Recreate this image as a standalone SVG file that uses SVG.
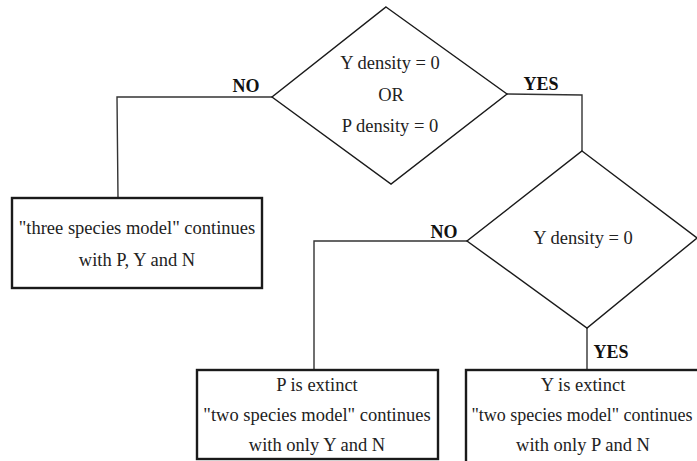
<svg xmlns="http://www.w3.org/2000/svg" width="697" height="461" viewBox="0 0 697 461">
<style>
text{font-family:'Liberation Serif','DejaVu Serif',Times,serif;font-size:18.5px;text-anchor:middle}
.t{fill:#222}
.b{font-weight:bold;fill:#111;font-size:18px}
.d{fill:#fff;stroke:#1a1a1a;stroke-width:1.4}
.box{fill:#fff;stroke:#1a1a1a;stroke-width:2.4}
.c{fill:none;stroke:#333;stroke-width:1.4}
</style>
<rect width="697" height="461" fill="#fff"/>
<g id="connectors">
<polyline class="c" points="272,97 117,97 118,198"/>
<polyline class="c" points="507,94 582,95 582,151"/>
<polyline class="c" points="467,241 314,241 314,370"/>
<polyline class="c" points="587,328 587,370"/>
<text class="b" x="246" y="92">NO</text>
<text class="b" x="541" y="90">YES</text>
<text class="b" x="444" y="238">NO</text>
<text class="b" x="611" y="358">YES</text>
</g>
<g id="decision1">
<polygon class="d" points="386,7 507,94 391,184 272,97"/>
<text class="t" x="390" y="69">Y density = 0</text>
<text class="t" x="391" y="101">OR</text>
<text class="t" x="390" y="132">P density = 0</text>
</g>
<g id="box1">
<rect class="box" x="12" y="198" width="250" height="90"/>
<text class="t" x="137" y="234">"three species model" continues</text>
<text class="t" x="137" y="266">with P, Y and N</text>
</g>
<g id="decision2">
<polygon class="d" points="582,151 697,238 587,328 467,241"/>
<text class="t" x="583" y="244">Y density = 0</text>
</g>
<g id="box2">
<rect class="box" x="197" y="370" width="241" height="89"/>
<text class="t" x="317" y="391">P is extinct</text>
<text class="t" x="317" y="421">"two species model" continues</text>
<text class="t" x="317" y="451">with only Y and N</text>
</g>
<g id="box3">
<rect class="box" x="466" y="370" width="240" height="100"/>
<text class="t" x="583" y="391">Y is extinct</text>
<text class="t" x="582" y="421" style="font-size:18px">"two species model" continues</text>
<text class="t" x="583" y="451">with only P and N</text>
</g>
</svg>
